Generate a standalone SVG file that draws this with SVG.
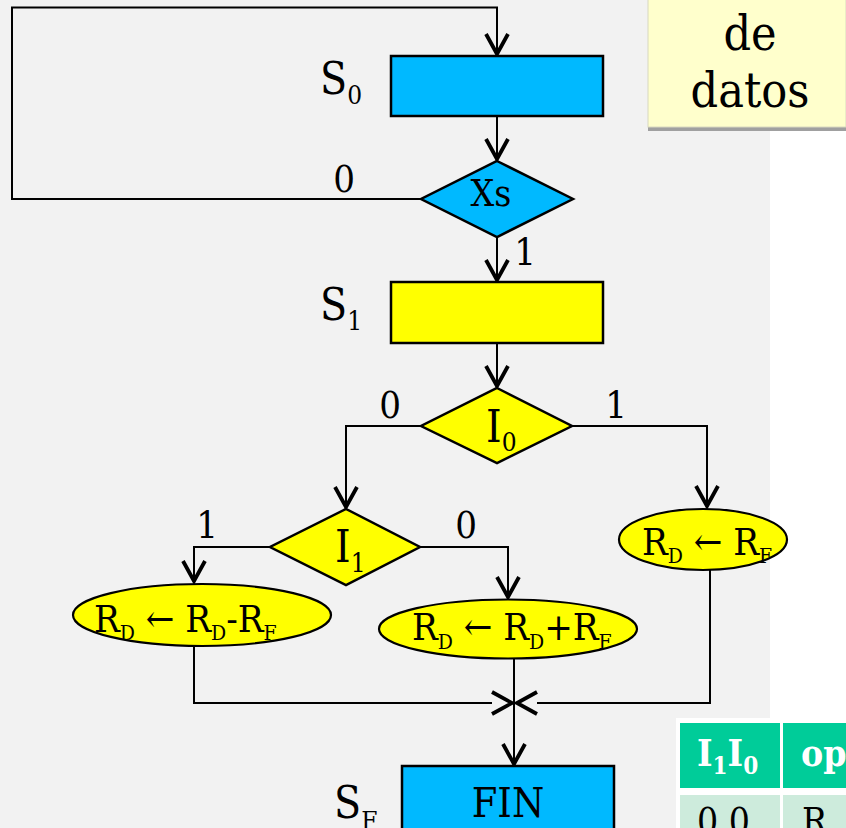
<svg xmlns="http://www.w3.org/2000/svg" width="846" height="828" viewBox="0 0 846 828">
<defs>
<style>
text{font-family:"DejaVu Serif Condensed","DejaVu Serif","Liberation Serif",serif;font-stretch:condensed;fill:#000}
.ln{fill:none;stroke:#000;stroke-width:2}
.box{stroke:#000;stroke-width:2.5}
.blue{fill:#00b9ff}
.yel{fill:#ffff00}
.lbl{font-size:38px}
.st{font-size:44px}
.sb{font-size:26px}
.el{font-size:38px}
.es{font-size:21px}
.th{font-size:37px;font-weight:bold;fill:#fff}
.td{font-size:37px}
</style>
<marker id="v" markerUnits="userSpaceOnUse" markerWidth="40" markerHeight="40" viewBox="-30 -20 40 40" refX="2" refY="0" orient="auto" overflow="visible">
<path d="M-20,-11 L0,0 L-20,11" fill="none" stroke="#000" stroke-width="3.8"/>
</marker>
</defs>
<rect x="0" y="0" width="846" height="828" fill="#fff"/>
<rect x="0" y="0" width="770" height="828" fill="#f2f2f2"/>
<g id="note">
<rect x="648" y="3" width="198" height="128" fill="#a0a0a0"/>
<rect x="648" y="-2" width="198" height="129" fill="#ffffcc" stroke="#d8d8c0" stroke-width="1"/>
<text x="750" y="50" font-size="48" text-anchor="middle">de</text>
<text x="750" y="107" font-size="48" text-anchor="middle">datos</text>
</g>
<g id="connectors">
<path class="ln" d="M421,199 H12 V7.5 H497 V56" marker-end="url(#v)"/>
<path class="ln" d="M497,116 V161" marker-end="url(#v)"/>
<path class="ln" d="M497,237 V282" marker-end="url(#v)"/>
<path class="ln" d="M497,343 V388" marker-end="url(#v)"/>
<path class="ln" d="M421,426 H346 V509" marker-end="url(#v)"/>
<path class="ln" d="M572,426 H707 V508" marker-end="url(#v)"/>
<path class="ln" d="M270,547 H194 V583" marker-end="url(#v)"/>
<path class="ln" d="M420,547 H508 V599" marker-end="url(#v)"/>
<path class="ln" d="M194,646 V703 H492"/>
<path d="M492,703 H514" fill="none" stroke="none" marker-end="url(#v)"/>
<path class="ln" d="M710,568 V703 H537"/>
<path d="M537,703 H515" fill="none" stroke="none" marker-end="url(#v)"/>
<path class="ln" d="M514,659 V766" marker-end="url(#v)"/>
<text class="lbl" x="344" y="192" text-anchor="middle">0</text>
<text class="lbl" x="525" y="265" text-anchor="middle">1</text>
<text class="lbl" x="390" y="418" text-anchor="middle">0</text>
<text class="lbl" x="616" y="418" text-anchor="middle">1</text>
<text class="lbl" x="207" y="538" text-anchor="middle">1</text>
<text class="lbl" x="466" y="538" text-anchor="middle">0</text>
</g>
<g id="s0">
<rect class="box blue" x="391" y="56" width="212" height="60"/>
<text class="st" x="320" y="94">S<tspan class="sb" dy="10">0</tspan></text>
</g>
<g id="xs">
<polygon class="box blue" points="497,161 573,199 497,237 421,199" stroke-width="2"/>
<text x="491" y="206" font-size="37" text-anchor="middle">Xs</text>
</g>
<g id="s1">
<rect class="box yel" x="391" y="282" width="212" height="61"/>
<text class="st" x="320" y="320">S<tspan class="sb" dy="10">1</tspan></text>
</g>
<g id="i0">
<polygon class="box yel" points="497,388 572,426 497,463 421,426" stroke-width="2"/>
<text x="486" y="442" font-size="44">I<tspan class="sb" dy="9">0</tspan></text>
</g>
<g id="i1">
<polygon class="box yel" points="346,509 420,547 346,585 270,547" stroke-width="2"/>
<text x="335" y="562" font-size="44">I<tspan class="sb" dy="10">1</tspan></text>
</g>
<g id="sub">
<ellipse class="yel" cx="202" cy="615" rx="129" ry="31" stroke="#000" stroke-width="2.2"/>
<text class="el" x="94" y="632">R<tspan class="es" dy="8">D</tspan><tspan dy="-8"> ← R</tspan><tspan class="es" dy="8">D</tspan><tspan dy="-8">-R</tspan><tspan class="es" dy="8">F</tspan></text>
</g>
<g id="add">
<ellipse class="yel" cx="508" cy="629" rx="129" ry="29.5" stroke="#000" stroke-width="2.2"/>
<text class="el" x="412" y="640">R<tspan class="es" dy="9">D</tspan><tspan dy="-9"> ← R</tspan><tspan class="es" dy="9">D</tspan><tspan dy="-9">+R</tspan><tspan class="es" dy="9">F</tspan></text>
</g>
<g id="load">
<ellipse class="yel" cx="703" cy="539.5" rx="84" ry="30.5" stroke="#000" stroke-width="2.2"/>
<text class="el" x="642" y="555">R<tspan class="es" dy="8">D</tspan><tspan dy="-8"> ← R</tspan><tspan class="es" dy="8">F</tspan></text>
</g>
<g id="fin">
<rect class="box blue" x="402" y="766" width="212" height="66"/>
<text x="508" y="817" font-size="41" text-anchor="middle">FIN</text>
<text class="st" x="334" y="818">S<tspan class="sb" dy="12">F</tspan></text>
</g>
<g id="table">
<rect x="676" y="718" width="170" height="110" fill="#fff"/>
<rect x="680" y="723" width="100" height="65" fill="#00cc99"/>
<rect x="783" y="723" width="63" height="65" fill="#00cc99"/>
<rect x="680" y="795" width="100" height="40" fill="#cdebdc"/>
<rect x="783" y="795" width="63" height="40" fill="#cdebdc"/>
<text class="th" x="697" y="766">I<tspan font-size="24" dy="8">1</tspan><tspan dy="-8">I</tspan><tspan font-size="24" dy="8">0</tspan></text>
<text class="th" x="801" y="766">op</text>
<text class="td" x="697" y="834">0 0</text>
<text class="td" x="802" y="834">R</text>
</g>
</svg>
